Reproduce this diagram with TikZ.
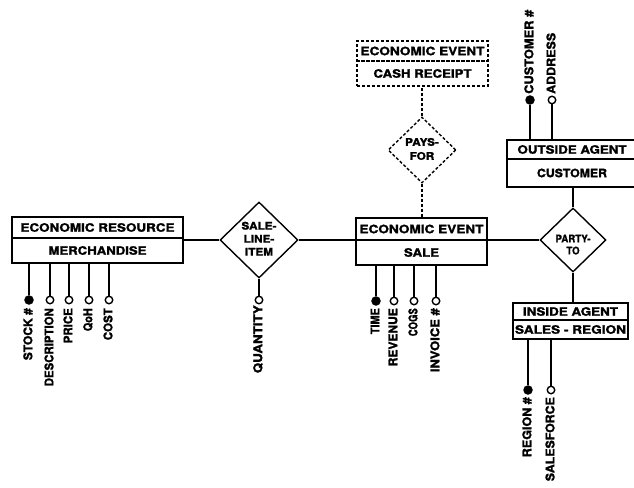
\documentclass[tikz,border=0pt]{standalone}
\usepackage{fontspec}
\usepackage{graphicx}
\setmainfont{TeX Gyre Heros}[BoldFeatures={FakeBold=1.6}]
\usetikzlibrary{shapes.geometric}

% text stretched horizontally to a given width (pt), natural height kept
\newcommand\fitw[2]{\resizebox{#1pt}{\height}{#2}}
% stacked relationship text, stretched by a factor
\newcommand\reltext[3]{\scalebox{#1}[1]{\fontsize{10.5}{#2}\selectfont\begin{tabular}{@{}c@{}}#3\end{tabular}}}

\tikzset{
  ink/.style={line width=1.4pt},
  part/.style={ink, draw, rectangle, inner sep=0pt, font=\fontsize{11.5}{13}\selectfont\bfseries},
  dashpart/.style={part, dash pattern=on 3pt off 2pt},
  rel/.style={ink, draw, diamond, inner sep=0pt},
  dashrel/.style={rel, dash pattern=on 3pt off 2pt},
  reltxt/.style={inner sep=0pt, font=\bfseries},
  keyattr/.style={ink, draw, circle, fill=black, inner sep=0pt, minimum size=8pt},
  plainattr/.style={ink, draw, circle, fill=white, inner sep=0pt, minimum size=7.5pt},
  attrtxt/.style={rotate=90, inner sep=0pt, font=\fontsize{12}{14}\selectfont\bfseries},
  below/.style={attrtxt, anchor=east},
  above/.style={attrtxt, anchor=west},
  conn/.style={ink},
  dashconn/.style={ink, dash pattern=on 3pt off 2pt},
}

\begin{document}
\begin{tikzpicture}[x=1pt,y=-1pt]
\useasboundingbox (0,0) rectangle (634,487);

% ---- entities ----
\node[part, minimum width=171pt, minimum height=21pt] (res-top) at (97.5,227.5) {\fitw{154}{ECONOMIC RESOURCE}};
\node[part, minimum width=171pt, minimum height=25pt] (res-bot) at (97.5,250.5) {\fitw{98}{MERCHANDISE}};

\node[part, minimum width=131pt, minimum height=22pt] (sale-top) at (421.5,229) {\fitw{124}{ECONOMIC EVENT}};
\node[part, minimum width=131pt, minimum height=25pt] (sale-bot) at (421.5,252.5) {\fitw{35}{SALE}};

\node[dashpart, minimum width=131pt, minimum height=20pt] (cash-top) at (422.5,51) {\fitw{124}{ECONOMIC EVENT}};
\node[dashpart, minimum width=131pt, minimum height=25pt] (cash-bot) at (422.5,73.5) {\fitw{98}{CASH RECEIPT}};

\node[part, minimum width=130pt, minimum height=19pt] (out-top) at (572,149.5) {\fitw{109}{OUTSIDE AGENT}};
\node[part, minimum width=130pt, minimum height=28pt] (out-bot) at (572,173) {\fitw{70}{CUSTOMER}};

\node[part, minimum width=115pt, minimum height=17pt] (in-top) at (570.5,311.5) {\fitw{95}{INSIDE AGENT}};
\node[part, minimum width=115pt, minimum height=19pt] (in-bot) at (570.5,329.5) {\fitw{111}{SALES - REGION}};

% ---- relationships ----
\node[rel, minimum width=78pt, minimum height=76pt] (sli) at (259,240) {};
\node[reltxt] (sli-t) at (sli.center) {\reltext{1.12}{13}{SALE-\\LINE-\\ITEM}};

\node[dashrel, minimum width=68pt, minimum height=66pt] (pays) at (422,150) {};
\node[reltxt] (pays-t) at (pays.center) {\reltext{1.12}{14}{PAYS-\\FOR}};

\node[rel, minimum width=66pt, minimum height=64pt] (party) at (573,240) {};
\node[reltxt] (party-t) at ([yshift=-6pt]party.center) {\reltext{0.92}{12}{PARTY-\\TO}};

% ---- connectors ----
\draw[conn] (sli.west) -- (sli.west -| res-bot.east);
\draw[conn] (sli.east) -- (sli.east -| sale-bot.west);
\draw[conn] (party.west) -- (party.west -| sale-bot.east);
\draw[conn] (party.north) -- (party.north |- out-bot.south);
\draw[conn] (party.south) -- (party.south |- in-top.north);
\draw[dashconn] (pays.north) -- (pays.north |- cash-bot.south);
\draw[dashconn] (pays.south) -- (pays.south |- sale-top.north);

% ---- attributes of MERCHANDISE ----
\node[keyattr]   (stock) at (29,300) {};
\node[plainattr] (descr) at (50,300) {};
\node[plainattr] (price) at (69,300) {};
\node[plainattr] (qoh)   at (89,300) {};
\node[plainattr] (cost)  at (109,300) {};
\foreach \a in {stock,descr,price,qoh,cost}
  \draw[conn] (\a) -- (\a |- res-bot.south);
\node[below] (stock-t) at (28,308) {\fitw{52}{STOCK \#}};
\node[below] (descr-t) at (49,308) {\fitw{78}{DESCRIPTION}};
\node[below] (price-t) at (68,308) {\fitw{35}{PRICE}};
\node[below] (qoh-t)   at (88,308) {\fitw{23}{QoH}};
\node[below] (cost-t)  at (108,308) {\fitw{32}{COST}};

% ---- attribute of SALE-LINE-ITEM ----
\node[plainattr] (qty) at (259,300) {};
\draw[conn] (qty) -- (sli.south);
\node[below] (qty-t) at (258,305) {\fitw{68}{QUANTITY}};

% ---- attributes of SALE ----
\node[keyattr]   (time) at (376,301) {};
\node[plainattr] (rev)  at (394,301) {};
\node[plainattr] (cogs) at (414,301) {};
\node[plainattr] (inv)  at (436,301) {};
\foreach \a in {time,rev,cogs,inv}
  \draw[conn] (\a) -- (\a |- sale-bot.south);
\node[below] (time-t) at (375,308) {\fitw{26}{TIME}};
\node[below] (rev-t)  at (393,308) {\fitw{58}{REVENUE}};
\node[below] (cogs-t) at (413,308) {\fitw{28}{COGS}};
\node[below] (inv-t)  at (435,308) {\fitw{64}{INVOICE \#}};

% ---- attributes of CUSTOMER ----
\node[keyattr]   (cust) at (530,100) {};
\node[plainattr] (addr) at (552,100) {};
\foreach \a in {cust,addr}
  \draw[conn] (\a) -- (\a |- out-top.north);
\node[above] (cust-t) at (529,94) {\fitw{84}{CUSTOMER \#}};
\node[above] (addr-t) at (551,94) {\fitw{61}{ADDRESS}};

% ---- attributes of SALES - REGION ----
\node[keyattr]   (reg)   at (528,390) {};
\node[plainattr] (force) at (551,390) {};
\foreach \a in {reg,force}
  \draw[conn] (\a) -- (\a |- in-bot.south);
\node[below] (reg-t)   at (527,397) {\fitw{60}{REGION \#}};
\node[below] (force-t) at (550,397) {\fitw{84}{SALESFORCE}};
\end{tikzpicture}
\end{document}
